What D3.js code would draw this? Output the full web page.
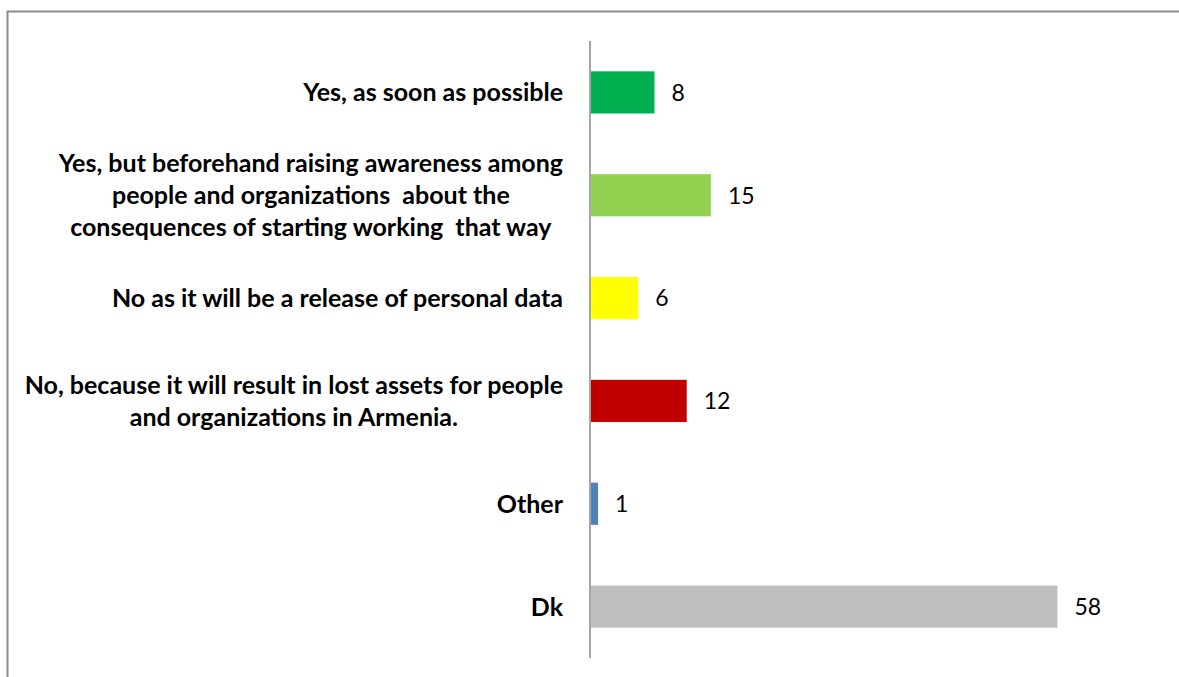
<!DOCTYPE html>
<html>
<head>
<meta charset="utf-8">
<script src="https://cdn.jsdelivr.net/npm/d3@7"></script>
<style>
  html, body { margin: 0; padding: 0; background: #fff; }
  svg { display: block; }
</style>
</head>
<body>
<svg id="chart" width="1179" height="677"></svg>
<script>
// Survey answers (each entry is a list of label lines)
const categories = [
  ["Yes, as soon as possible"],
  ["Yes, but beforehand raising awareness among", "people and organizations  about the", "consequences of starting working  that way"],
  ["No as it will be a release of personal data"],
  ["No, because it will result in lost assets for people", "and organizations in Armenia."],
  ["Other"],
  ["Dk"]
];
const values = [8, 15, 6, 12, 1, 58];
const barColors = ["#00B050", "#92D050", "#FFFF00", "#C00000", "#4F81BD", "#BFBFBF"];

const svg = d3.select("#chart");
const fontFamily = "Lato, 'Open Sans', 'Liberation Sans', sans-serif";

// Outer frame (top and left edges visible in the viewport)
svg.append("rect")
  .attr("x", 7.5).attr("y", 11.5)
  .attr("width", 1200).attr("height", 700)
  .attr("fill", "#fff")
  .attr("stroke", "#8c8c8c")
  .attr("stroke-width", 2);

const axisX = 590;
const plotTop = 41, plotBottom = 658;

const x = d3.scaleLinear().domain([0, 58]).range([axisX, 1057.5]);
const y = d3.scaleBand()
  .domain(d3.range(categories.length))
  .range([plotTop, plotBottom])
  .paddingInner(0.59)
  .paddingOuter(0.295);

// Bars
svg.append("g").selectAll("rect")
  .data(values)
  .join("rect")
  .attr("x", x(0))
  .attr("y", (d, i) => y(i))
  .attr("width", d => x(d) - x(0))
  .attr("height", y.bandwidth())
  .attr("fill", (d, i) => barColors[i]);

// Value labels
svg.append("g").selectAll("text")
  .data(values)
  .join("text")
  .attr("x", d => x(d) + 17)
  .attr("y", (d, i) => y(i) + y.bandwidth() / 2)
  .attr("dy", "0.36em")
  .attr("font-family", fontFamily)
  .attr("font-size", 23)
  .attr("fill", "#000")
  .text(d => d);

// Category labels: multi-line blocks, lines centred within the block, block right-aligned to the axis
const lineHeight = 32;
const labelGroup = svg.append("g");
categories.forEach((lines, i) => {
  const g = labelGroup.append("g");
  const cy = y(i) + y.bandwidth() / 2;
  const texts = lines.map((line, k) =>
    g.append("text")
      .attr("y", cy + (k - (lines.length - 1) / 2) * lineHeight)
      .attr("dy", "0.36em")
      .attr("text-anchor", "middle")
      .attr("font-family", fontFamily)
      .attr("font-weight", "bold")
      .attr("font-size", 25)
      .attr("fill", "#000")
      .style("white-space", "pre")
      .text(line)
  );
  const maxW = d3.max(texts, t => t.node().getComputedTextLength());
  const cx = axisX - 27 - maxW / 2;
  texts.forEach(t => t.attr("x", cx));
});

// Category axis line
svg.append("line")
  .attr("x1", axisX).attr("x2", axisX)
  .attr("y1", plotTop).attr("y2", plotBottom)
  .attr("stroke", "#a6a6a6")
  .attr("stroke-width", 2);
</script>
</body>
</html>
